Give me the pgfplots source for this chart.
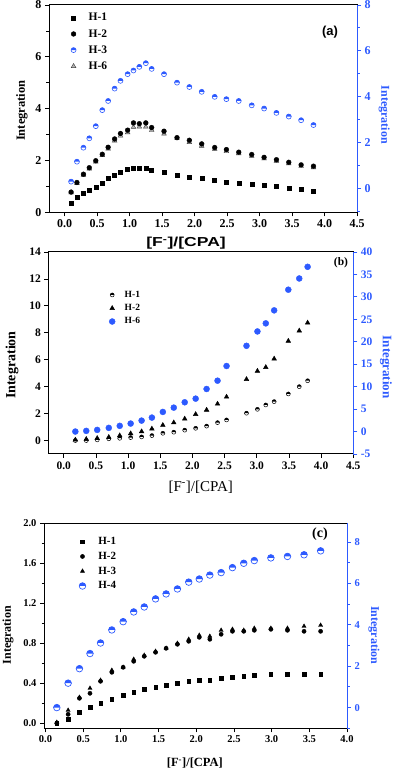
\documentclass[border=0pt]{standalone}
\usepackage{fontspec}
\setmainfont{Liberation Serif}
\newfontfamily\arial{Liberation Sans}
\usepackage{graphicx}
\usepackage{pgfplots}
\pgfplotsset{compat=1.18}
\definecolor{oblue}{RGB}{45,90,255}

\pgfdeclareplotmark{halfup}{%
  \pgfpathmoveto{\pgfqpoint{\pgfplotmarksize}{0pt}}%
  \pgfpatharc{0}{180}{\pgfplotmarksize}%
  \pgfpathclose
  \pgfusepathqfill
  \pgfpathcircle{\pgfpointorigin}{\pgfplotmarksize}%
  \pgfusepathqstroke
}

\pgfplotsset{
  base/.style={scale only axis, anchor=south west, tick align=outside,
    major tick length=4pt, minor tick length=2.5pt,
    axis line style={line width=1pt}, every tick/.style={line width=0.8pt, black},
    /pgf/number format/assume math mode=true, scaled ticks=false, clip=false},
  leftax/.style={base, xtick pos=left, ytick pos=left, legend cell align=left,
    xticklabel style={/pgf/number format/.cd, fixed, fixed zerofill, precision=1}},
  rightax/.style={base, axis x line=none, axis y line*=right, ytick pos=right,
    y axis line style={draw=oblue, line width=1pt}, every tick/.append style={draw=oblue},
    yticklabel style={text=oblue}, ylabel style={text=oblue, rotate=180}},
}

\begin{document}
\begin{tikzpicture}
\useasboundingbox (0,0) rectangle (392pt,771pt);

% ================= panel (a) =================
\begin{axis}[leftax,
  at={(49pt,558.7pt)}, width=308pt, height=207.3pt,
  xmin=-0.24, xmax=4.5, ymin=0, ymax=8,
  xtick={0,0.5,1,1.5,2,2.5,3,3.5,4,4.5}, ytick={0,2,4,6,8}, minor ytick={1,3,5,7},
  tick label style={font=\bfseries\fontsize{12}{12}\selectfont},
  ylabel={Integration}, ylabel style={at={(axis description cs:-0.088,0.49)}, anchor=center, font=\bfseries\fontsize{12.5}{13}\selectfont},
  xlabel={\scalebox{1.35}[1]{\arial\bfseries [F\textsuperscript{-}]/[CPA]}},
  xlabel style={at={(axis description cs:0.445,0)}, anchor=center, yshift=-31pt, font=\fontsize{13}{14}\selectfont},
  legend style={draw=none, fill=none, at={(axis description cs:0.071,0.968)}, anchor=north west,
    font=\bfseries\fontsize{11.5}{12}\selectfont, inner sep=0pt, nodes={inner sep=1.5pt}, row sep=4pt,
    /tikz/every odd column/.append style={column sep=11pt}},
]
\addplot[only marks, mark=square*, mark size=2pt, black] coordinates {
(0.10,0.36)(0.19,0.58)(0.29,0.72)(0.38,0.84)(0.48,0.97)(0.58,1.11)(0.67,1.30)(0.77,1.43)(0.86,1.54)
(0.97,1.65)(1.06,1.71)(1.15,1.69)(1.25,1.69)(1.34,1.62)(1.53,1.54)(1.73,1.43)(1.92,1.36)(2.11,1.30)
(2.31,1.22)(2.49,1.17)(2.68,1.13)(2.88,1.07)(3.07,1.03)(3.26,0.99)(3.45,0.93)(3.64,0.89)(3.83,0.80)};
\addlegendentry{H-1}
\addplot[only marks, mark=triangle*, mark size=2.7pt, draw=black!75, fill=gray!60, forget plot] coordinates {
(0.10,0.76)(0.19,1.12)(0.29,1.44)(0.38,1.68)(0.48,1.95)(0.58,2.20)(0.67,2.45)(0.77,2.76)(0.86,2.95)
(0.97,3.08)(1.06,3.29)(1.15,3.30)(1.25,3.30)(1.34,3.17)(1.53,3.03)(1.73,2.86)(1.92,2.70)(2.11,2.56)
(2.31,2.44)(2.49,2.35)(2.68,2.27)(2.88,2.17)(3.07,2.07)(3.26,1.98)(3.45,1.88)(3.64,1.78)(3.83,1.73)};
\addplot[only marks, mark=*, mark size=2.4pt, black] coordinates {
(0.10,0.78)(0.19,1.15)(0.29,1.47)(0.38,1.72)(0.48,1.99)(0.58,2.24)(0.67,2.51)(0.77,2.83)(0.86,3.04)
(0.97,3.17)(1.06,3.45)(1.15,3.42)(1.25,3.45)(1.34,3.27)(1.53,3.13)(1.73,2.88)(1.92,2.78)(2.11,2.64)
(2.31,2.50)(2.49,2.42)(2.68,2.32)(2.88,2.23)(3.07,2.12)(3.26,2.03)(3.45,1.93)(3.64,1.83)(3.83,1.78)};
\addlegendentry{H-2}
\addlegendimage{only marks, mark=halfup, mark size=2.5pt, oblue, mark options={line width=0.6pt}}
\addlegendentry{H-3}
\addlegendimage{only marks, mark=triangle*, mark size=2.7pt, draw=black!75, fill=gray!60}
\addlegendentry{H-6}
\end{axis}
\begin{axis}[rightax,
  at={(49pt,558.7pt)}, width=308pt, height=207.3pt,
  xmin=-0.24, xmax=4.5, ymin=-1.05, ymax=8,
  ytick={0,2,4,6,8}, minor ytick={-1,1,3,5,7},
  tick label style={font=\bfseries\fontsize{12}{12}\selectfont},
  ylabel={Integration}, ylabel style={at={(axis description cs:1.088,0.47)}, anchor=center, font=\bfseries\fontsize{12}{13}\selectfont},
]
\addplot[only marks, mark=halfup, mark size=2.5pt, oblue, mark options={line width=0.6pt}] coordinates {
(0.10,0.29)(0.19,1.16)(0.29,1.77)(0.38,2.18)(0.48,2.71)(0.58,3.41)(0.67,3.81)(0.77,4.35)(0.86,4.69)
(0.97,4.98)(1.06,5.14)(1.15,5.30)(1.25,5.46)(1.34,5.21)(1.53,4.98)(1.73,4.61)(1.92,4.42)(2.11,4.21)
(2.31,3.99)(2.49,3.89)(2.68,3.81)(2.88,3.62)(3.07,3.48)(3.26,3.29)(3.45,3.13)(3.64,2.97)(3.83,2.76)};
\end{axis}
\node[font=\arial\bfseries\fontsize{13}{14}\selectfont] at (330pt,739pt) {(a)};

% ================= panel (b) =================
\begin{axis}[leftax,
  at={(48.3pt,317pt)}, width=305pt, height=202pt,
  xmin=-0.24, xmax=4.5, ymin=-1, ymax=14,
  xtick={0,0.5,1,1.5,2,2.5,3,3.5,4,4.5}, ytick={0,2,4,6,8,10,12,14},
  tick label style={font=\bfseries\fontsize{11.5}{12}\selectfont},
  ylabel={Integration}, ylabel style={at={(axis description cs:-0.119,0.44)}, anchor=center, font=\bfseries\fontsize{14}{15}\selectfont},
  xlabel={[F\textsuperscript{-}]/[CPA]},
  xlabel style={at={(axis description cs:0.50,0)}, anchor=center, yshift=-33pt, font=\fontsize{15}{16}\selectfont},
  legend style={draw=none, fill=none, at={(axis description cs:0.199,0.815)}, anchor=north west,
    font=\bfseries\fontsize{9.5}{10}\selectfont, inner sep=0pt, nodes={inner sep=1.5pt}, row sep=2.5pt,
    /tikz/every odd column/.append style={column sep=8pt}},
]
\addplot[only marks, mark=halfup, mark size=2pt, black, mark options={line width=0.5pt}] coordinates {
(0.18,0.0)(0.35,0.0)(0.52,0.05)(0.70,0.13)(0.87,0.17)(1.04,0.22)(1.21,0.27)(1.37,0.37)(1.54,0.54)
(1.71,0.62)(1.88,0.77)(2.05,0.91)(2.22,1.07)(2.39,1.33)(2.53,1.53)(2.84,2.03)(3.01,2.32)(3.14,2.64)
(3.27,2.89)(3.49,3.46)(3.66,4.00)(3.79,4.44)};
\addlegendentry{H-1}
\addplot[only marks, mark=triangle*, mark size=2.7pt, black] coordinates {
(0.18,0.05)(0.35,0.10)(0.52,0.17)(0.70,0.25)(0.87,0.37)(1.04,0.52)(1.21,0.67)(1.37,0.87)(1.54,1.14)
(1.71,1.33)(1.88,1.61)(2.05,1.95)(2.22,2.27)(2.39,2.72)(2.53,3.24)(2.84,4.55)(3.01,5.16)(3.14,5.44)
(3.27,6.07)(3.49,7.39)(3.66,8.15)(3.79,8.74)};
\addlegendentry{H-2}
\addlegendimage{only marks, mark=*, mark size=3pt, oblue}
\addlegendentry{H-6}
\end{axis}
\begin{axis}[rightax,
  at={(48.3pt,317pt)}, width=305pt, height=202pt,
  xmin=-0.24, xmax=4.5, ymin=-5, ymax=40,
  ytick={-5,0,5,10,15,20,25,30,35,40},
  tick label style={font=\bfseries\fontsize{11.5}{12}\selectfont},
  ylabel={Integration}, ylabel style={at={(axis description cs:1.107,0.43)}, anchor=center, font=\bfseries\fontsize{13}{14}\selectfont},
]
\addplot[only marks, mark=*, mark size=3pt, oblue] coordinates {
(0.18,0.0)(0.35,0.15)(0.52,0.37)(0.70,0.82)(0.87,1.27)(1.04,1.78)(1.21,2.44)(1.37,3.11)(1.54,4.37)
(1.71,5.33)(1.88,6.52)(2.05,7.33)(2.22,9.48)(2.39,11.33)(2.53,14.6)(2.84,19.1)(3.01,22.3)(3.14,24.1)
(3.27,27.0)(3.49,31.6)(3.66,34.1)(3.79,36.7)};
\end{axis}
\node[font=\bfseries\fontsize{11.5}{12}\selectfont] at (341pt,508pt) {(b)};

% ================= panel (c) =================
\begin{axis}[leftax,
  at={(44pt,42.7pt)}, width=303pt, height=205pt,
  xmin=-0.02, xmax=4.0, ymin=-0.05, ymax=2.0,
  xtick={0,0.5,1,1.5,2,2.5,3,3.5,4}, ytick={0,0.4,0.8,1.2,1.6,2.0}, minor ytick={0.2,0.6,1.0,1.4,1.8},
  yticklabel style={/pgf/number format/.cd, fixed, fixed zerofill, precision=1},
  tick label style={font=\bfseries\fontsize{10.5}{11}\selectfont},
  ylabel={Integration}, ylabel style={at={(axis description cs:-0.119,0.455)}, anchor=center, font=\bfseries\fontsize{12}{13}\selectfont},
  xlabel={\bfseries [F\textsuperscript{-}]/[CPA]},
  xlabel style={at={(axis description cs:0.498,0)}, anchor=center, yshift=-34.7pt, font=\fontsize{12.5}{13}\selectfont},
  legend style={draw=none, fill=none, at={(axis description cs:0.1155,0.94)}, anchor=north west,
    font=\bfseries\fontsize{11}{12}\selectfont, inner sep=0pt, nodes={inner sep=1.5pt}, row sep=3pt,
    /tikz/every odd column/.append style={column sep=11pt}},
]
\addplot[only marks, mark=square*, mark size=1.8pt, black] coordinates {
(0.15,0.0)(0.30,0.04)(0.45,0.11)(0.59,0.16)(0.73,0.20)(0.88,0.24)(1.03,0.28)(1.17,0.31)(1.31,0.34)
(1.46,0.36)(1.60,0.38)(1.75,0.40)(1.90,0.42)(2.04,0.43)(2.18,0.43)(2.33,0.45)(2.48,0.46)(2.63,0.47)
(2.77,0.48)(2.99,0.49)(3.21,0.49)(3.43,0.49)(3.65,0.49)};
\addlegendentry{H-1}
\addplot[only marks, mark=*, mark size=2.1pt, black] coordinates {
(0.15,0.00)(0.30,0.09)(0.45,0.25)(0.59,0.30)(0.73,0.42)(0.88,0.51)(1.03,0.56)(1.17,0.62)(1.31,0.67)
(1.46,0.71)(1.60,0.75)(1.75,0.79)(1.90,0.82)(2.04,0.86)(2.18,0.84)(2.33,0.89)(2.48,0.92)(2.63,0.92)
(2.77,0.93)(2.99,0.94)(3.21,0.93)(3.43,0.92)(3.65,0.92)};
\addlegendentry{H-2}
\addplot[only marks, mark=triangle*, mark size=2.4pt, black] coordinates {
(0.15,0.01)(0.30,0.13)(0.45,0.26)(0.59,0.35)(0.73,0.43)(0.88,0.53)(1.03,0.56)(1.17,0.64)(1.31,0.68)
(1.46,0.72)(1.60,0.75)(1.75,0.80)(1.90,0.84)(2.04,0.88)(2.18,0.87)(2.33,0.93)(2.48,0.94)(2.63,0.93)
(2.77,0.95)(2.99,0.95)(3.21,0.95)(3.43,0.97)(3.65,0.98)};
\addlegendentry{H-3}
\addlegendimage{only marks, mark=halfup, mark size=3.3pt, oblue, mark options={line width=0.7pt}}
\addlegendentry{H-4}
\end{axis}
\begin{axis}[rightax,
  at={(44pt,42.7pt)}, width=303pt, height=205pt,
  xmin=-0.02, xmax=4.0, ymin=-1, ymax=8.9,
  ytick={0,2,4,6,8}, minor ytick={-1,1,3,5,7},
  tick label style={font=\bfseries\fontsize{10.5}{11}\selectfont},
  ylabel={Integration}, ylabel style={at={(axis description cs:1.089,0.455)}, anchor=center, font=\bfseries\fontsize{12}{13}\selectfont},
]
\addplot[only marks, mark=halfup, mark size=3.3pt, oblue, mark options={line width=0.7pt}] coordinates {
(0.15,0.0)(0.30,1.18)(0.45,1.88)(0.59,2.61)(0.73,3.12)(0.88,3.75)(1.03,4.15)(1.17,4.62)(1.31,4.86)
(1.46,5.25)(1.60,5.49)(1.75,5.73)(1.90,6.06)(2.04,6.21)(2.18,6.40)(2.33,6.52)(2.48,6.76)(2.63,6.97)
(2.77,7.10)(2.99,7.23)(3.21,7.30)(3.43,7.38)(3.65,7.57)};
\end{axis}
\node[font=\bfseries\fontsize{14}{15}\selectfont] at (320pt,237pt) {(c)};
\end{tikzpicture}
\end{document}
